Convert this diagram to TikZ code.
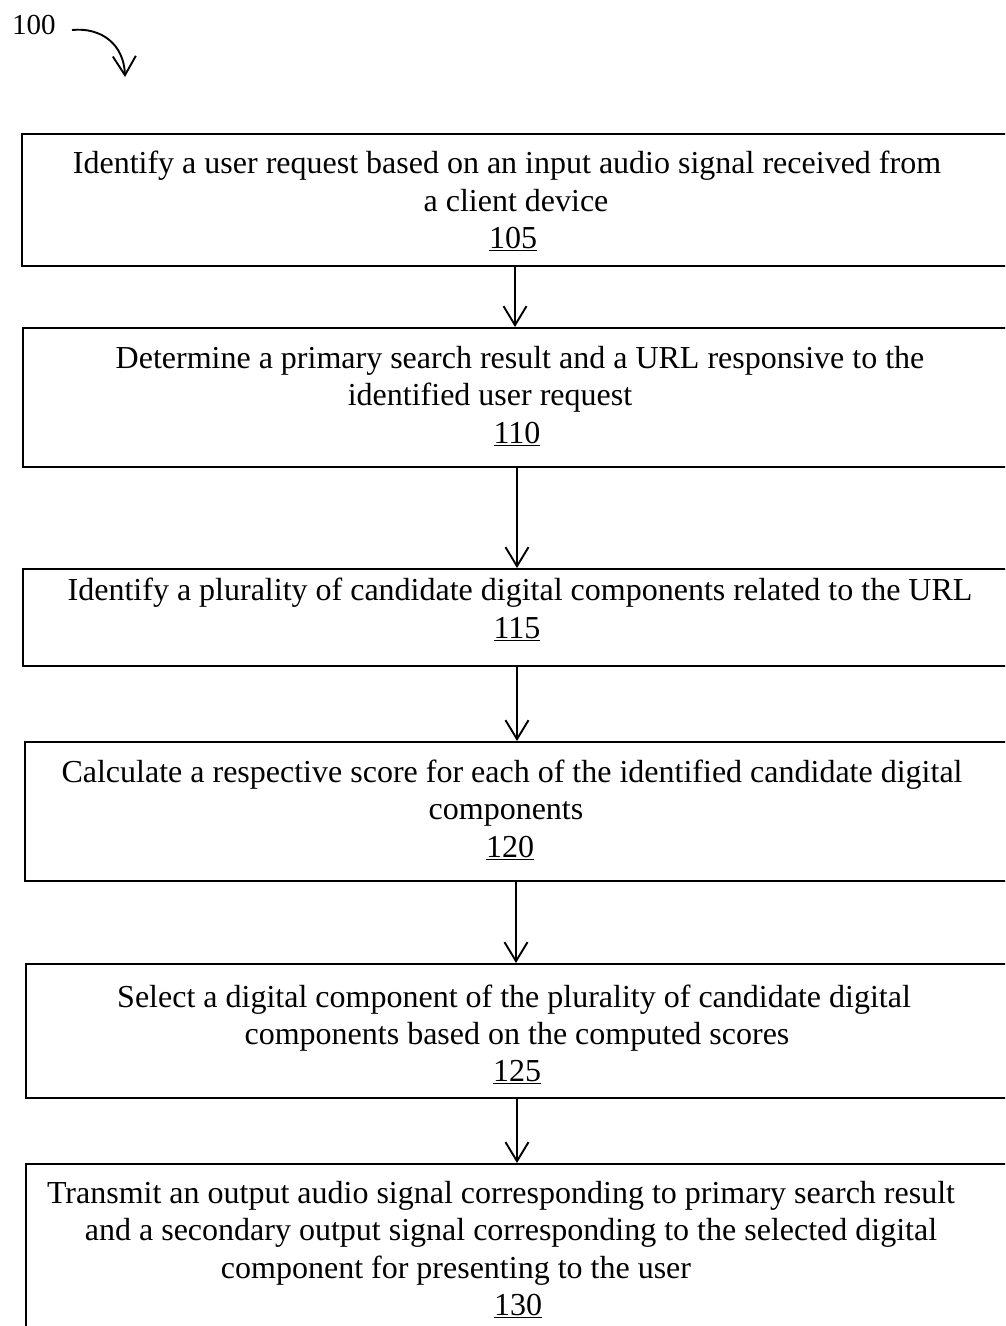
\documentclass[tikz,border=0pt]{standalone}
\usepackage{fontspec}
\setmainfont{Liberation Serif}
\usetikzlibrary{arrows.meta}
\tikzset{
  stepbox/.style={draw, line width=2.3pt, rectangle, inner sep=0pt, anchor=north west},
  txt/.style={anchor=base, inner sep=0pt, font=\fontsize{32}{37.5}\selectfont},
  flow/.style={line width=1.9pt, -{Straight Barb[length=19pt, width=23pt, line width=1.9pt]}},
}
\begin{document}
\begin{tikzpicture}[x=1pt, y=-1pt]
\useasboundingbox (0,0) rectangle (1005,1326);
\clip (0,0) rectangle (1005,1326);

% reference numeral with its curved pointer
\node[txt, anchor=base west, font=\fontsize{29}{34}\selectfont] (ref) at (12,34) {100};
\coordinate (refstart) at (72,30);
\coordinate (reftip) at (125,77);
\draw[flow] (refstart) .. controls (102,27) and (124,45) .. (reftip);

% flow steps (the boxes run past the right margin)
\node[stepbox, minimum width=1040pt, minimum height=132pt] (b1) at (21,133) {};
\node[stepbox, minimum width=1040pt, minimum height=139pt] (b2) at (22,327) {};
\node[stepbox, minimum width=1040pt, minimum height=97pt]  (b3) at (22,568) {};
\node[stepbox, minimum width=1040pt, minimum height=139pt] (b4) at (24,741) {};
\node[stepbox, minimum width=1040pt, minimum height=134pt] (b5) at (25,963) {};
\node[stepbox, minimum width=1040pt, minimum height=250pt] (b6) at (25,1163) {};

% step texts
\node[txt] (t1a) at (507,173) {Identify a user request based on an input audio signal received from};
\node[txt] (t1b) at (516,211) {a client device};
\node[txt] (t1c) at (513,248) {\underline{105}};

\node[txt] (t2a) at (520,368) {Determine a primary search result and a URL responsive to the};
\node[txt] (t2b) at (490,405) {identified user request};
\node[txt] (t2c) at (517,443) {\underline{110}};

\node[txt] (t3a) at (520,600) {Identify a plurality of candidate digital components related to the URL};
\node[txt] (t3b) at (517,638) {\underline{115}};

\node[txt] (t4a) at (512,782) {Calculate a respective score for each of the identified candidate digital};
\node[txt] (t4b) at (506,819) {components};
\node[txt] (t4c) at (510,857) {\underline{120}};

\node[txt] (t5a) at (514,1007) {Select a digital component of the plurality of candidate digital};
\node[txt] (t5b) at (517,1044) {components based on the computed scores};
\node[txt] (t5c) at (517,1081) {\underline{125}};

\node[txt] (t6a) at (501,1203) {Transmit an output audio signal corresponding to primary search result};
\node[txt] (t6b) at (511,1240) {and a secondary output signal corresponding to the selected digital};
\node[txt] (t6c) at (456,1278) {component for presenting to the user};
\node[txt] (t6d) at (518,1315) {\underline{130}};

% connectors between steps
\coordinate (xa) at (515,0);
\coordinate (xb) at (517,0);
\coordinate (xc) at (517,0);
\coordinate (xd) at (516,0);
\coordinate (xe) at (517,0);
\draw[flow] (b1.south -| xa) -- (b2.north -| xa);
\draw[flow] (b2.south -| xb) -- (b3.north -| xb);
\draw[flow] (b3.south -| xc) -- (b4.north -| xc);
\draw[flow] (b4.south -| xd) -- (b5.north -| xd);
\draw[flow] (b5.south -| xe) -- (b6.north -| xe);
\end{tikzpicture}
\end{document}
